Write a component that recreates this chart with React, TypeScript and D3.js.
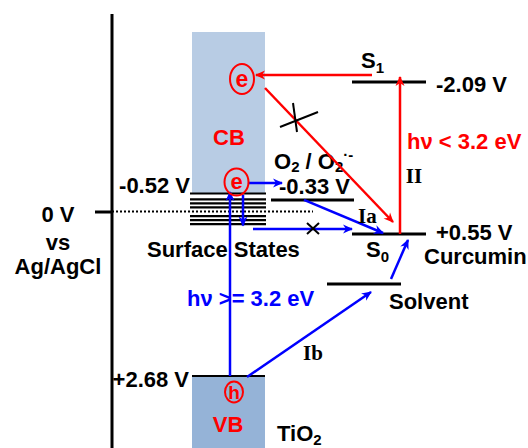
import * as d3 from "d3";

// potentials in V vs Ag/AgCl (schematic, not to scale)
const tio2Edges = [-0.52, 2.68]; // CB bottom, VB top
const tio2Labels = ["-0.52 V", "+2.68 V"];
const surfaceStates = [-0.52, -0.36, -0.25, -0.14, 0.09, 0.19, 0.29];
const curcuminLevels = [-2.09, 0.55]; // S1, S0
const curcuminLabels = ["-2.09 V", "+0.55 V"];
const redoxLevels = [-0.33]; // O2 / O2.-
const redoxLabels = ["-0.33 V"];
const solventLevels = [1.3];
const referenceLevels = [0];
const referenceLabels = ["0 V", "vs", "Ag/AgCl"];
const photonLabels = ["hν >= 3.2 eV", "hν < 3.2 eV"];
const pathLabels = ["Ia", "Ib", "II"];

const W = 528;
const H = 448;
const RED = "#ff0000";
const BLUE = "#0000ff";
const SANS = "'Liberation Sans', Arial, sans-serif";
const SERIF = "'Liberation Serif', 'Times New Roman', serif";

// schematic energy axis: piecewise linear
const y = d3
  .scaleLinear()
  .domain([-2.09, -0.52, 0, 0.55, 2.68])
  .range([82, 193, 212, 234, 376]);

// columns
const axisX = 112;
const tio2 = { x0: 192, x1: 265 };
const redoxCol = { x0: 271, x1: 354 };
const curCol = { x0: 352, x1: 426 };
const solvCol = { x0: 327, x1: 401 };

const Arrow = ({ x1, y1, x2, y2, color }: any) => (
  <line
    x1={x1}
    y1={y1}
    x2={x2}
    y2={y2}
    stroke={color}
    strokeWidth={2.5}
    markerEnd={`url(#head-${color === RED ? "red" : "blue"})`}
  />
);

const App = () => {
  const [cb, vb] = tio2Edges;
  const [s1, s0] = curcuminLevels;
  const o2 = redoxLevels[0];
  const solv = solventLevels[0];
  const zero = referenceLevels[0];

  const txt = { fontFamily: SANS, fontWeight: 700, fontSize: 22 } as any;

  return (
    <svg
      width={W}
      height={H}
      style={{ position: "absolute", left: 0, top: 0, background: "#fff" }}
    >
      <defs>
        {[
          ["red", RED],
          ["blue", BLUE],
        ].map(([id, c]) => (
          <marker
            key={id}
            id={`head-${id}`}
            viewBox="0 0 10 10"
            refX={9}
            refY={5}
            markerWidth={12}
            markerHeight={10}
            markerUnits="userSpaceOnUse"
            orient="auto"
          >
            <path d="M0,0.5 L10,5 L0,9.5 L3,5 z" fill={c} />
          </marker>
        ))}
      </defs>

      {/* TiO2 bands */}
      <rect x={tio2.x0} y={32} width={tio2.x1 - tio2.x0} height={y(cb) - 32} fill="#b8cce4" />
      <rect x={tio2.x0} y={y(vb)} width={tio2.x1 - tio2.x0} height={H - y(vb)} fill="#95b3d7" />
      <line x1={tio2.x0} x2={tio2.x1} y1={y(vb)} y2={y(vb)} stroke="#000" strokeWidth={2} />

      {/* surface states */}
      {surfaceStates.map((v, i) => (
        <line key={i} x1={tio2.x0 - 2} x2={tio2.x1 + 1} y1={y(v) + 0.5} y2={y(v) + 0.5} stroke="#000" strokeWidth={2.2} />
      ))}

      {/* potential axis */}
      <line x1={axisX} x2={axisX} y1={14} y2={H} stroke="#000" strokeWidth={3} />
      <line x1={axisX - 17} x2={axisX} y1={y(zero)} y2={y(zero)} stroke="#000" strokeWidth={3} />
      <line
        x1={axisX}
        x2={313}
        y1={y(zero) - 0.5}
        y2={y(zero) - 0.5}
        stroke="#000"
        strokeWidth={2}
        strokeDasharray="2,2"
      />
      <text {...txt} x={58} y={y(zero) + 10} textAnchor="middle">{referenceLabels[0]}</text>
      <text {...txt} x={58} y={y(zero) + 38} textAnchor="middle">{referenceLabels[1]}</text>
      <text {...txt} x={58} y={y(zero) + 62} textAnchor="middle">{referenceLabels[2]}</text>

      {/* TiO2 labels */}
      <text {...txt} x={tio2.x0 - 2} y={y(cb)} textAnchor="end">{tio2Labels[0]}</text>
      <text {...txt} x={tio2.x0 - 3} y={y(vb) + 11} textAnchor="end">{tio2Labels[1]}</text>
      <text {...txt} x={229} y={145} textAnchor="middle" fill={RED}>CB</text>
      <text {...txt} x={228} y={432} textAnchor="middle" fill={RED}>VB</text>
      <text {...txt} x={277} y={441}>
        TiO<tspan fontSize={15} dy={4}>2</tspan>
      </text>
      <text {...txt} x={147} y={257}>Surface States</text>

      {/* levels */}
      <line x1={curCol.x0} x2={curCol.x1} y1={y(s1)} y2={y(s1)} stroke="#000" strokeWidth={3} />
      <line x1={curCol.x0} x2={curCol.x1} y1={y(s0)} y2={y(s0)} stroke="#000" strokeWidth={3} />
      <line x1={redoxCol.x0} x2={redoxCol.x1} y1={y(o2)} y2={y(o2)} stroke="#000" strokeWidth={3} />
      <line x1={solvCol.x0} x2={solvCol.x1} y1={y(solv)} y2={y(solv)} stroke="#000" strokeWidth={3} />

      <text {...txt} x={361} y={y(s1) - 14}>
        S<tspan fontSize={15} dy={5}>1</tspan>
      </text>
      <text {...txt} x={436} y={y(s1) + 10}>{curcuminLabels[0]}</text>
      <text {...txt} x={366} y={y(s0) + 23}>
        S<tspan fontSize={15} dy={5}>0</tspan>
      </text>
      <text {...txt} x={436} y={y(s0) + 6}>{curcuminLabels[1]}</text>
      <text {...txt} x={424} y={y(s0) + 30}>Curcumin</text>
      <text {...txt} x={274} y={169}>
        O<tspan fontSize={15} dy={3}>2</tspan>
        <tspan dy={-3}> / O</tspan>
        <tspan fontSize={15} dy={3}>2</tspan>
        <tspan fontSize={15} dy={-12}>·-</tspan>
      </text>
      <text {...txt} x={279} y={y(o2) - 6}>{redoxLabels[0]}</text>
      <text {...txt} x={389} y={y(solv) + 25}>Solvent</text>

      {/* red path (II) */}
      <Arrow x1={400} y1={y(s0)} x2={400} y2={y(s1) - 5} color={RED} />
      <Arrow x1={372} y1={y(s1) - 7} x2={256} y2={y(s1) - 7} color={RED} />
      <Arrow x1={265} y1={y(s1) + 6} x2={393} y2={y(s0) - 12} color={RED} />
      <line x1={293} y1={103} x2={297} y2={132} stroke="#000" strokeWidth={2} />
      <line x1={280} y1={127} x2={318} y2={112} stroke="#000" strokeWidth={2} />
      <text {...txt} x={407} y={149} fill={RED}>{photonLabels[1]}</text>
      <text x={414} y={183} textAnchor="middle" fontFamily={SERIF} fontWeight={700} fontSize={21}>
        {pathLabels[2]}
      </text>

      {/* blue paths (Ia, Ib) */}
      <Arrow x1={230} y1={y(vb)} x2={230} y2={y(cb) - 1} color={BLUE} />
      <Arrow x1={243} y1={y(cb) + 2} x2={243} y2={y(0.29) + 2} color={BLUE} />
      <Arrow x1={249} y1={y(cb) - 10} x2={282} y2={y(cb) - 10} color={BLUE} />
      <Arrow x1={304} y1={y(o2)} x2={383} y2={y(s0) - 1} color={BLUE} />
      <Arrow x1={253} y1={y(s0) - 5} x2={352} y2={y(s0) - 5} color={BLUE} />
      <line x1={307} y1={223} x2={319} y2={234} stroke="#000" strokeWidth={2} />
      <line x1={307} y1={234} x2={319} y2={223} stroke="#000" strokeWidth={2} />
      <Arrow x1={247} y1={y(vb) + 1} x2={371} y2={y(solv) + 8} color={BLUE} />
      <Arrow x1={391} y1={y(solv) - 5} x2={408} y2={y(s0) + 6} color={BLUE} />
      <text {...txt} x={187} y={306} fill={BLUE}>{photonLabels[0]}</text>
      <text x={358} y={223} fontFamily={SERIF} fontWeight={700} fontSize={21}>{pathLabels[0]}</text>
      <text x={303} y={360} fontFamily={SERIF} fontWeight={700} fontSize={21}>{pathLabels[1]}</text>

      {/* carriers */}
      <ellipse cx={242} cy={y(s1) - 3} rx={12} ry={15} fill="none" stroke={RED} strokeWidth={2} />
      <text {...txt} fontSize={23} x={242} y={y(s1) + 5} textAnchor="middle" fill={RED}>e</text>
      <ellipse cx={236.5} cy={y(cb) - 11} rx={12} ry={13.5} fill="none" stroke={RED} strokeWidth={2} />
      <text {...txt} x={236.5} y={y(cb) - 4} textAnchor="middle" fill={RED}>e</text>
      <ellipse cx={234} cy={y(vb) + 16} rx={9} ry={10.5} fill="none" stroke={RED} strokeWidth={2} />
      <text {...txt} fontSize={19} x={234} y={y(vb) + 23} textAnchor="middle" fill={RED}>h</text>
    </svg>
  );
};

export default App;
